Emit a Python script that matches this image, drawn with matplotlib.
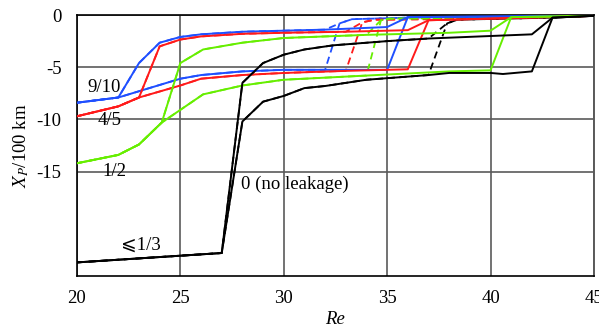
import numpy as np
import matplotlib
matplotlib.use("Agg")
import matplotlib.pyplot as plt

plt.rcParams['font.family'] = ['Liberation Serif', 'DejaVu Serif', 'DejaVu Sans']
plt.rcParams['mathtext.fontset'] = 'stix'
plt.rcParams['axes.unicode_minus'] = False

# leakage 9/10 (blue)
blue_up_re = [20, 22, 23, 24, 25, 26, 28, 30, 32, 35, 36, 45]
blue_up_xp = [-8.4, -7.9, -4.6, -2.65, -2.1, -1.85, -1.6, -1.5, -1.4, -1.15, -0.2, -0.08]
blue_lo_re = [20, 22, 25, 26, 28, 30, 32, 35, 36, 45]
blue_lo_xp = [-8.4, -7.9, -6.1, -5.75, -5.4, -5.25, -5.25, -5.25, -0.2, -0.08]
blue_split = 32
blue_dash_re = [32.7, 33.3, 36, 45]
blue_dash_xp = [-0.8, -0.4, -0.25, -0.08]

# leakage 4/5 (red)
red_up_re = [20, 22, 23, 24, 25, 26, 28, 30, 33, 36, 37, 45]
red_up_xp = [-9.7, -8.75, -7.9, -3.0, -2.35, -2.05, -1.8, -1.7, -1.6, -1.45, -0.5, -0.08]
red_lo_re = [20, 22, 23, 25, 26, 28, 30, 33, 36, 37, 45]
red_lo_xp = [-9.7, -8.75, -7.9, -6.75, -6.1, -5.75, -5.55, -5.35, -5.2, -0.5, -0.08]
red_split = 33
red_dash_re = [33.8, 34.4, 37, 45]
red_dash_xp = [-0.7, -0.45, -0.4, -0.08]

# leakage 1/2 (green)
green_up_re = [20, 22, 23, 24.1, 25, 26.1, 28, 30, 34, 38, 40, 41, 45]
green_up_xp = [-14.2, -13.4, -12.4, -10.3, -4.6, -3.3, -2.65, -2.2, -1.9, -1.7, -1.5, -0.2, -0.08]
green_lo_re = [20, 22, 23, 24.1, 26.1, 28, 30, 34, 38, 40, 41, 45]
green_lo_xp = [-14.2, -13.4, -12.4, -10.3, -7.6, -6.75, -6.2, -5.8, -5.4, -5.3, -0.2, -0.08]
green_split = 34
green_dash_re = [34.7, 35.1, 41, 45]
green_dash_xp = [-0.5, -0.35, -0.25, -0.08]

# leakage <=1/3 and 0 (black)
black_up_re = [20, 27, 28, 29, 30, 31, 32.4, 35, 37, 42, 43, 45]
black_up_xp = [-23.7, -22.8, -6.5, -4.6, -3.8, -3.3, -2.9, -2.5, -2.25, -1.85, -0.25, -0.08]
black_lo_re = [20, 27, 28, 29, 30, 31, 32, 34, 35, 37, 38, 40, 40.6, 42, 43, 45]
black_lo_xp = [-23.7, -22.8, -10.2, -8.3, -7.75, -7.0, -6.8, -6.2, -6.05, -5.75, -5.55,
               -5.55, -5.65, -5.4, -0.25, -0.08]
black_split = 37
black_dash_re = [37.9, 38.4, 43, 45]
black_dash_xp = [-0.8, -0.45, -0.25, -0.08]

series = [
    ('#1f4fff', blue_up_re, blue_up_xp, blue_lo_re, blue_lo_xp, blue_split, blue_dash_re, blue_dash_xp),
    ('#ff1a1a', red_up_re, red_up_xp, red_lo_re, red_lo_xp, red_split, red_dash_re, red_dash_xp),
    ('#66ee00', green_up_re, green_up_xp, green_lo_re, green_lo_xp, green_split, green_dash_re, green_dash_xp),
    ('black', black_up_re, black_up_xp, black_lo_re, black_lo_xp, black_split, black_dash_re, black_dash_xp),
]

fig = plt.figure(figsize=(5.99, 3.34), dpi=100)
ax = fig.add_axes([0.1285, 0.1737, 0.863, 0.7813])

for color, ure, uxp, lre, lxp, split, dre, dxp in series:
    ure, uxp, lre, lxp = map(np.array, (ure, uxp, lre, lxp))
    # dashed runs: follow each branch up to the split, then jump early
    for bre, bxp in ((ure, uxp), (lre, lxp)):
        keep = bre <= split
        ax.plot(np.r_[bre[keep], dre], np.r_[bxp[keep], dxp], color=color,
                lw=1.3, ls=(0, (4, 2.5)), zorder=2)
    ax.plot(ure, uxp, color=color, lw=1.4, zorder=3)
    ax.plot(lre, lxp, color=color, lw=1.4, zorder=3)

fs = 13.5
ax.set_xlim(20, 45)
ax.set_ylim(-25, 0)
ax.set_xticks([20, 25, 30, 35, 40, 45])
ax.set_yticks([0, -5, -10, -15])
ax.tick_params(length=0, labelsize=fs)
ax.tick_params(axis='x', pad=10)
ax.tick_params(axis='y', pad=11)
ax.grid(True, color='#5a5a5a', lw=1.2)
ax.set_axisbelow(True)
for side in ('left', 'bottom', 'top'):
    ax.spines[side].set_color('black')
    ax.spines[side].set_linewidth(1.2)
ax.spines['right'].set_color('#5a5a5a')
ax.spines['right'].set_linewidth(1.4)

ax.set_xlabel('Re', fontstyle='italic', fontsize=fs, labelpad=3)
ax.set_ylabel(r'$X_P$/100 km', fontsize=fs, labelpad=4)

ax.text(21.3, -6.9, '9/10', fontsize=fs, ha='center', va='center')
ax.text(21.6, -10.1, '4/5', fontsize=fs, ha='center', va='center')
ax.text(21.8, -15.0, '1/2', fontsize=fs, ha='center', va='center')
ax.text(27.95, -16.2, '0 (no leakage)', fontsize=fs, ha='left', va='center')
ax.text(23.1, -22.0, '⩽1/3', fontsize=fs, ha='center', va='center')

plt.savefig('out.png', dpi=100)
